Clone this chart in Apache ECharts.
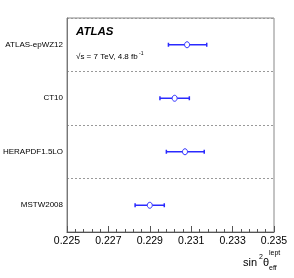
<!DOCTYPE html>
<html><head><meta charset="utf-8">
<script src="https://cdn.jsdelivr.net/npm/echarts@6/dist/echarts.min.js"></script>
<style>html,body{margin:0;padding:0;background:#fff}#c{width:294px;height:278px}</style>
</head><body><div id="c"></div>
<script>
const categories = ["ATLAS-epWZ12", "CT10", "HERAPDF1.5LO", "MSTW2008"];
const centralValues = [0.2308, 0.2302, 0.2307, 0.2290];
const lowValues = [0.2299, 0.22949, 0.2298, 0.22829];
const highValues = [0.23175, 0.23091, 0.23163, 0.2297];
const xTicks = [0.225, 0.227, 0.229, 0.231, 0.233, 0.235];

const data = categories.map((c, i) => [centralValues[i], lowValues[i], highValues[i], i]);
const chart = echarts.init(document.getElementById('c'));
const blue = '#2a2aff';
const F = '"Liberation Sans", Arial, sans-serif';
chart.setOption({
  animation: false,
  grid: {left: 67, right: 20, top: 18, bottom: 46, show: true, borderColor: '#888', borderWidth: 1,
         outerBoundsMode: 'none', containLabel: false},
  xAxis: {
    type: 'value', min: xTicks[0], max: xTicks[xTicks.length - 1], interval: 0.002,
    axisLine: {show: true, onZero: false, lineStyle: {color: '#555', width: 1}},
    axisTick: {show: true, inside: true, length: 6, lineStyle: {color: '#555'}},
    minorTick: {show: true, splitNumber: 5, length: 3, lineStyle: {color: '#555'}},
    splitLine: {show: false},
    axisLabel: {color: '#000', fontSize: 10.5, fontFamily: F, margin: 4,
      formatter: v => v.toFixed(3)}
  },
  yAxis: {
    type: 'category', data: categories, inverse: true,
    axisLine: {show: true, lineStyle: {color: '#777', width: 1}},
    axisTick: {show: false},
    axisLabel: {color: '#000', fontSize: 8, fontFamily: F, margin: 4},
    splitLine: {show: true, lineStyle: {color: '#999', type: [2, 2], width: 1}}
  },
  series: [{
    type: 'custom',
    data: data,
    renderItem: function (params, api) {
      const c = api.coord([api.value(0), api.value(3)]);
      const l = api.coord([api.value(1), api.value(3)]);
      const h = api.coord([api.value(2), api.value(3)]);
      const y = c[1];
      const st = {stroke: blue, lineWidth: 1.5, fill: null};
      const r = 2.5;
      return {type: 'group', children: [
        {type: 'line', shape: {x1: l[0], y1: y, x2: c[0] - r, y2: y}, style: st},
        {type: 'line', shape: {x1: c[0] + r, y1: y, x2: h[0], y2: y}, style: st},
        {type: 'line', shape: {x1: l[0], y1: y - 2, x2: l[0], y2: y + 2}, style: st},
        {type: 'line', shape: {x1: h[0], y1: y - 2, x2: h[0], y2: y + 2}, style: st},
        {type: 'ellipse', shape: {cx: c[0], cy: y, rx: r, ry: 3}, style: {stroke: blue, lineWidth: 1, fill: '#fff'}}
      ]};
    }
  }],
  graphic: [
    {type: 'text', left: 76, top: 26, style: {text: 'ATLAS', font: 'italic bold 11.5px ' + F, fill: '#000'}},
    {type: 'text', left: 76, top: 53, style: {text: '√s = 7 TeV, 4.8 fb', font: '8px ' + F, fill: '#000'}},
    {type: 'text', left: 139, top: 51, style: {text: '-1', font: '5px ' + F, fill: '#000'}},
    {type: 'text', left: 243, top: 257, style: {text: 'sin', font: '11px ' + F, fill: '#000'}},
    {type: 'text', left: 259, top: 254, style: {text: '2', font: '7px ' + F, fill: '#000'}},
    {type: 'text', left: 263, top: 257, style: {text: 'θ', font: '11px ' + F, fill: '#000'}},
    {type: 'text', left: 269, top: 265, style: {text: 'eff', font: '7px ' + F, fill: '#000'}},
    {type: 'text', left: 269, top: 250, style: {text: 'lept', font: '7px ' + F, fill: '#000'}}
  ]
});
</script></body></html>
